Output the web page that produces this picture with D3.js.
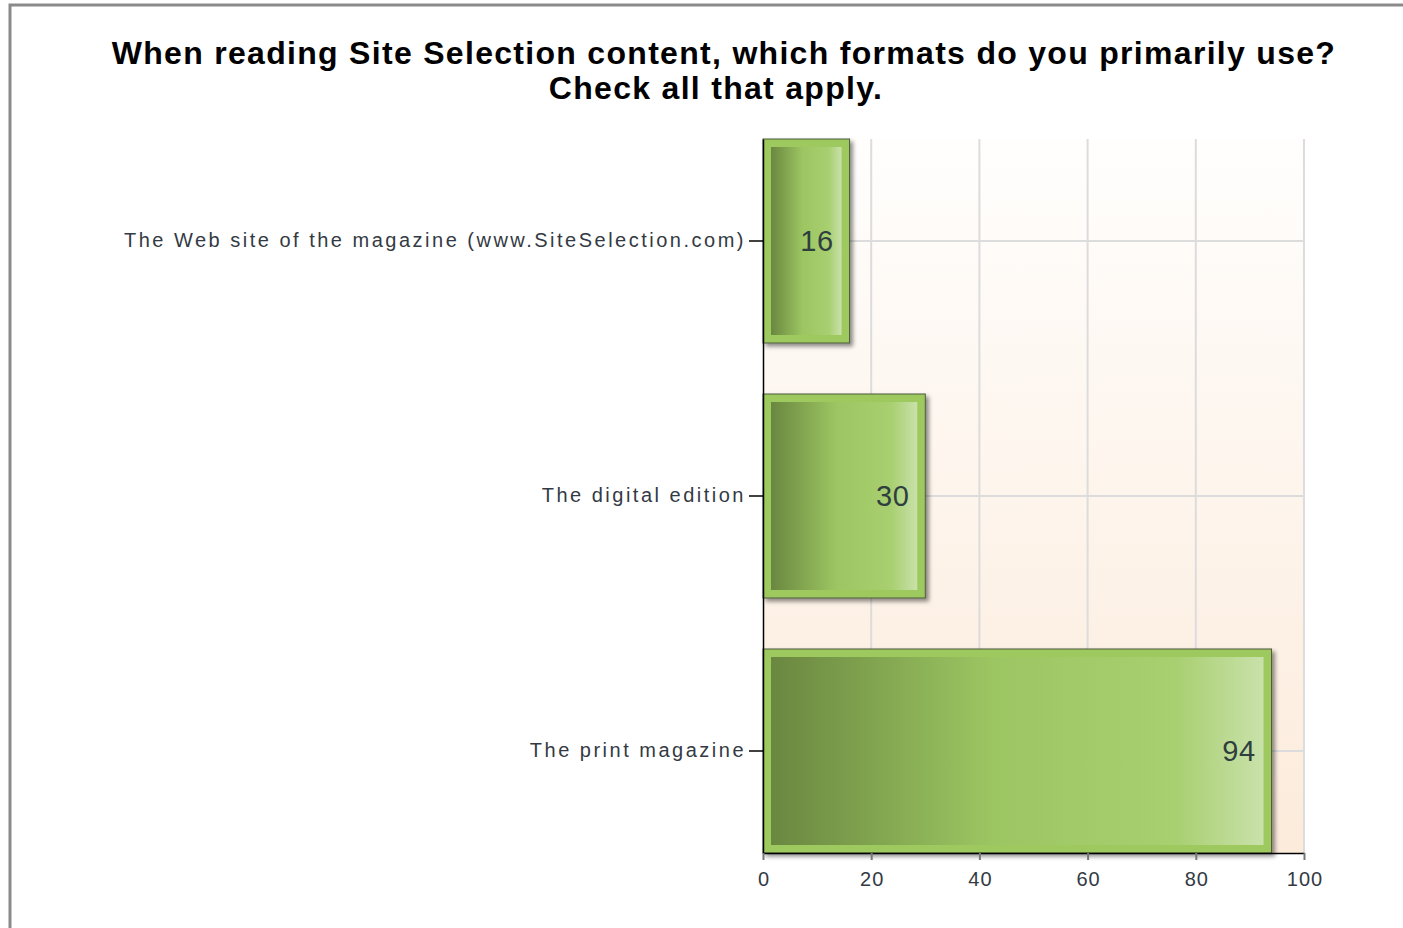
<!DOCTYPE html>
<html>
<head>
<meta charset="utf-8">
<script src="https://cdn.jsdelivr.net/npm/d3@7"></script>
<style>
  body { margin: 0; background: #fff; }
  text { font-family: "Liberation Sans", Arial, sans-serif; }
</style>
</head>
<body>
<div class="chart"></div>
<script>
var categories = ['The Web site of the magazine (www.SiteSelection.com)', 'The digital edition', 'The print magazine']
var values = [16, 30, 94]
var xTicks = [0, 20, 40, 60, 80, 100]
var titleLines = ['When reading Site Selection content, which formats do you primarily use?', 'Check all that apply.']

var W = 1403, H = 928
var margin = { top: 139, right: 99, bottom: 75, left: 763 }
var width = W - margin.left - margin.right
var height = H - margin.top - margin.bottom

var root = d3.select('.chart')
  .append('svg')
    .attr('width', W)
    .attr('height', H)

var defs = root.append('defs')

var bg = defs.append('linearGradient')
    .attr('id', 'bg')
    .attr('x1', 0).attr('y1', 0).attr('x2', 0).attr('y2', 1)
bg.append('stop').attr('offset', '0%').attr('stop-color', '#fffefd')
bg.append('stop').attr('offset', '100%').attr('stop-color', '#fcebdb')

var barGrad = defs.append('linearGradient')
    .attr('id', 'barGrad')
    .attr('x1', 0).attr('y1', 0).attr('x2', 1).attr('y2', 0)
barGrad.append('stop').attr('offset', '0%').attr('stop-color', '#6a8740')
barGrad.append('stop').attr('offset', '45%').attr('stop-color', '#9cc662')
barGrad.append('stop').attr('offset', '82%').attr('stop-color', '#a8cf70')
barGrad.append('stop').attr('offset', '100%').attr('stop-color', '#c9e1aa')

var shadow = defs.append('filter')
    .attr('id', 'shadow')
    .attr('x', '-10%').attr('y', '-10%').attr('width', '130%').attr('height', '130%')
shadow.append('feDropShadow')
    .attr('dx', 3).attr('dy', 3).attr('stdDeviation', 2)
    .attr('flood-color', '#000').attr('flood-opacity', 0.45)

// outer frame
root.append('path')
  .attr('d', `M10,${H + 5} V5 H${W + 5}`)
  .attr('fill', 'none')
  .attr('stroke', '#8a8a8a')
  .attr('stroke-width', 3)

var title = root.append('text')
  .attr('text-anchor', 'middle')
  .attr('font-weight', 'bold')
  .attr('font-size', 32)
  .attr('letter-spacing', 1.3)
  .attr('fill', '#000')
title.selectAll('tspan')
  .data(titleLines)
  .join('tspan')
    .attr('x', (d, i) => i === 0 ? 724 : 716)
    .attr('y', (d, i) => 64 + i * 35)
    .text(d => d)

var svg = root.append('g')
  .attr('transform', `translate(${margin.left}, ${margin.top})`)

var xScale = d3.scaleLinear()
  .domain([0, 100])
  .range([0, width])

var yScale = d3.scaleBand()
  .domain(categories)
  .range([0, height])
  .paddingInner(0.2)
  .paddingOuter(0)

svg.append('rect')
  .attr('width', width)
  .attr('height', height)
  .attr('fill', 'url(#bg)')

// grid
svg.append('g')
  .selectAll('line')
  .data(xTicks.slice(1))
  .join('line')
    .attr('x1', d => xScale(d)).attr('x2', d => xScale(d))
    .attr('y1', 0).attr('y2', height)
    .attr('stroke', '#dcdcdc')
    .attr('stroke-width', 2)

svg.append('g')
  .selectAll('line')
  .data(categories)
  .join('line')
    .attr('x1', 0).attr('x2', width)
    .attr('y1', d => yScale(d) + yScale.bandwidth() / 2)
    .attr('y2', d => yScale(d) + yScale.bandwidth() / 2)
    .attr('stroke', '#dcdcdc')
    .attr('stroke-width', 2)

// bars
var bars = svg.append('g')
  .selectAll('g')
  .data(categories)
  .join('g')
    .attr('transform', d => `translate(0, ${yScale(d)})`)

bars.append('rect')
  .attr('width', (d, i) => xScale(values[i]))
  .attr('height', yScale.bandwidth())
  .attr('fill', '#9dc95f')
  .attr('stroke', '#4d5a3c')
  .attr('stroke-width', 1)
  .attr('filter', 'url(#shadow)')

bars.append('rect')
  .attr('x', 8)
  .attr('y', 8)
  .attr('width', (d, i) => xScale(values[i]) - 16)
  .attr('height', yScale.bandwidth() - 16)
  .attr('fill', 'url(#barGrad)')

bars.append('text')
  .attr('x', (d, i) => xScale(values[i]) - 16)
  .attr('y', yScale.bandwidth() / 2)
  .attr('dy', '0.34em')
  .attr('text-anchor', 'end')
  .attr('font-size', 29)
  .attr('letter-spacing', 0.5)
  .attr('fill', '#2f3f3f')
  .text((d, i) => values[i])

// axes
var yAxis = d3.axisLeft(yScale)
  .tickSizeInner(14)
  .tickSizeOuter(0)
  .tickPadding(3)
var gy = svg.append('g').call(yAxis)
gy.select('.domain').attr('stroke', '#000').attr('stroke-width', 1.5)
gy.selectAll('.tick line').attr('stroke', '#000').attr('stroke-width', 1.5)
gy.selectAll('.tick text')
  .attr('font-size', 20)
  .attr('letter-spacing', 2.5)
  .attr('fill', '#333a44')

var xAxis = d3.axisBottom(xScale)
  .tickValues(xTicks)
  .tickSize(7)
  .tickSizeOuter(0)
  .tickPadding(12)
var gx = svg.append('g')
  .attr('transform', `translate(0, ${height})`)
  .call(xAxis)
gx.select('.domain').attr('stroke', '#000').attr('stroke-width', 1.5)
gx.selectAll('.tick line').attr('stroke', '#777').attr('stroke-width', 2)
gx.selectAll('.tick text')
  .attr('font-size', 20)
  .attr('letter-spacing', 1)
  .attr('dx', 0.5)
  .attr('fill', '#333a44')
</script>
</body>
</html>
